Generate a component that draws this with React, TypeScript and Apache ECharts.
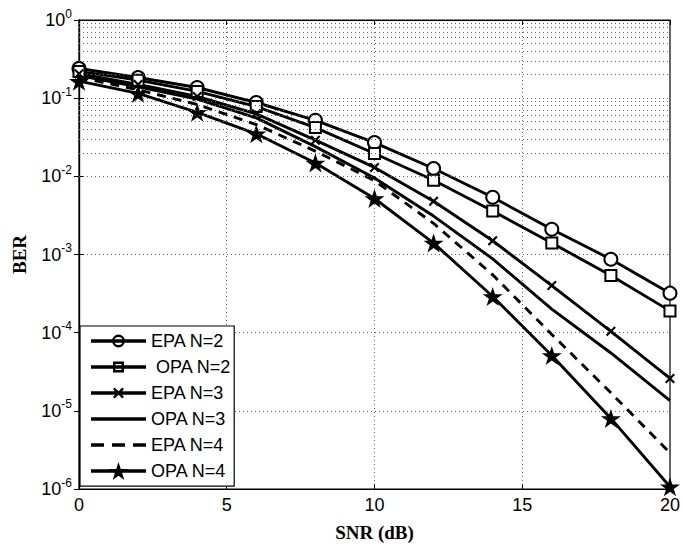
import React, { useEffect, useRef } from "react";
import * as echarts from "echarts";

const snr = [0, 2, 4, 6, 8, 10, 12, 14, 16, 18, 20];
const epaN2 = [0.24, 0.184, 0.137, 0.088, 0.052, 0.027, 0.0126, 0.0054, 0.0021, 0.00087, 0.00032];
const opaN2 = [0.22, 0.17, 0.122, 0.078, 0.042, 0.0196, 0.0089, 0.0036, 0.0014, 0.00054, 0.00019];
const epaN3 = [0.205, 0.15, 0.105, 0.063, 0.029, 0.013, 0.0048, 0.0015, 0.0004, 0.000104, 0.000026];
const opaN3 = [0.195, 0.14, 0.097, 0.056, 0.024, 0.0095, 0.0031, 0.00088, 0.0002, 0.000055, 0.0000135];
const epaN4 = [0.185, 0.128, 0.083, 0.046, 0.021, 0.0088, 0.0025, 0.00055, 0.000095, 0.000017, 0.0000029];
const opaN4 = [0.165, 0.115, 0.066, 0.035, 0.0148, 0.0052, 0.0014, 0.00029, 0.000051, 0.000008, 0.00000107];

const legendNames = ["EPA N=2", " OPA N=2", "EPA N=3", "OPA N=3", "EPA N=4", "OPA N=4"];
const xTicks = [0, 5, 10, 15, 20];
const minorMultipliers = [2, 3, 4, 5, 6, 7, 8, 9];
const decadeExponents = [-6, -5, -4, -3, -2, -1];

const X_PATH = "path://M0,3 L3,0 L10,7 L17,0 L20,3 L13,10 L20,17 L17,20 L10,13 L3,20 L0,17 L7,10 Z";
const STAR_PATH =
  "path://M10,0 L12.25,6.91 L19.51,6.91 L13.63,11.18 L15.88,18.09 L10,13.82 L4.12,18.09 L6.37,11.18 L0.49,6.91 L7.75,6.91 Z";

// legend icons (55 x 20 box): line + marker
const LINE = "M0,8.2H55V11.8H0Z";
const ICON_CIRCLE =
  "path://" + LINE +
  " M34,10 A6.5,6.5 0 1 1 21,10 A6.5,6.5 0 1 1 34,10 Z" +
  " M31.6,10 A4.1,4.1 0 1 0 23.4,10 A4.1,4.1 0 1 0 31.6,10 Z";
const ICON_SQUARE =
  "path://" + LINE +
  " M22,4.5H33V6.9H22Z M22,13.1H33V15.5H22Z M22,4.5H24.4V15.5H22Z M30.6,4.5H33V15.5H30.6Z";
const ICON_X =
  "path://" + LINE +
  " M22,6.2 L23.7,4.5 L27.5,8.3 L31.3,4.5 L33,6.2 L29.2,10 L33,13.8 L31.3,15.5 L27.5,11.7 L23.7,15.5 L22,13.8 L25.8,10 Z";
const ICON_SOLID = "path://" + LINE;
const ICON_DASH = "path://M0,8.2H13V11.8H0Z M21,8.2H34V11.8H21Z M42,8.2H55V11.8H42Z";
const ICON_STAR =
  "path://" + LINE +
  " M27.5,1 L29.75,7.91 L37.01,7.91 L31.13,12.18 L33.38,19.09 L27.5,14.82 L21.62,19.09 L23.87,12.18 L17.99,7.91 L25.25,7.91 Z";

const SANS = "'Liberation Sans', Arial, sans-serif";
const SERIF = "'Liberation Serif', 'Times New Roman', serif";

export default function App() {
  const ref = useRef<HTMLDivElement>(null);
  useEffect(() => {
    if (!ref.current) return;
    const chart = echarts.init(ref.current, null, { renderer: "svg" });
    const pair = (arr: number[]) => snr.map((s, i) => [s, arr[i]]);
    const minorLines: any[] = [];
    decadeExponents.forEach((e) => {
      minorMultipliers.forEach((k) => {
        minorLines.push({ yAxis: k * Math.pow(10, e) });
      });
    });
    const base = {
      type: "line",
      lineStyle: { color: "#000", width: 2.9 },
      itemStyle: { color: "#000", borderColor: "#000", borderWidth: 2.4 },
      z: 3,
    };
    chart.setOption({
      animation: false,
      backgroundColor: "#fff",
      grid: {
        left: 79,
        right: 11,
        top: 20,
        bottom: 58,
        show: true,
        borderColor: "#000",
        borderWidth: 1.2,
        backgroundColor: "#fff",
      },
      legend: {
        orient: "vertical",
        left: 80,
        top: 326,
        backgroundColor: "#fff",
        borderColor: "#000",
        borderWidth: 1.2,
        borderRadius: 0,
        padding: [6, 3, 6, 11],
        itemWidth: 55,
        itemHeight: 20,
        itemGap: 8,
        symbolKeepAspect: true,
        itemStyle: { color: "#000", borderWidth: 0 },
        textStyle: { fontSize: 18, fontFamily: SANS, color: "#000" },
        data: [
          { name: legendNames[0], icon: ICON_CIRCLE },
          { name: legendNames[1], icon: ICON_SQUARE },
          { name: legendNames[2], icon: ICON_X },
          { name: legendNames[3], icon: ICON_SOLID },
          { name: legendNames[4], icon: ICON_DASH },
          { name: legendNames[5], icon: ICON_STAR },
        ],
        z: 10,
      },
      xAxis: [
        {
          type: "value",
          min: 0,
          max: 20,
          interval: 5,
          name: "SNR (dB)",
          nameLocation: "middle",
          nameGap: 34,
          nameTextStyle: { fontSize: 19, fontWeight: "bold", fontFamily: SERIF, color: "#000" },
          axisLine: { show: true, lineStyle: { color: "#000", width: 1.2 } },
          axisTick: { show: true, inside: true, length: 5, lineStyle: { color: "#000" } },
          axisLabel: {
            fontSize: 18,
            fontFamily: SANS,
            color: "#000",
            margin: 7,
            formatter: (v: number) => (xTicks.indexOf(v) >= 0 ? String(v) : ""),
          },
          splitLine: { show: true, lineStyle: { color: "#666", type: [1, 3], width: 1 } },
        },
        {
          type: "value",
          position: "top",
          min: 0,
          max: 20,
          interval: 5,
          axisLine: { show: true, lineStyle: { color: "#000", width: 1.2 } },
          axisTick: { show: true, inside: true, length: 5, lineStyle: { color: "#000" } },
          axisLabel: { show: false },
          splitLine: { show: false },
        },
      ],
      yAxis: [
        {
          type: "log",
          logBase: 10,
          min: 1e-6,
          max: 1,
          name: "BER",
          nameLocation: "middle",
          nameGap: 50,
          nameTextStyle: { fontSize: 19, fontWeight: "bold", fontFamily: SERIF, color: "#000" },
          axisLine: { show: true, lineStyle: { color: "#000", width: 1.2 } },
          axisTick: { show: true, inside: true, length: 5, lineStyle: { color: "#000" } },
          axisLabel: {
            color: "#000",
            margin: 7,
            formatter: (v: number) => {
              const e = Math.round(Math.log10(v));
              return "{b|10}{e|" + String(e) + "}";
            },
            rich: {
              b: { fontSize: 18, fontFamily: SANS, color: "#000" },
              e: { fontSize: 12, fontFamily: SANS, color: "#000", padding: [0, 0, 13, 0] },
            },
          },
          splitLine: { show: true, lineStyle: { color: "#666", type: [1, 3], width: 1 } },
        },
        {
          type: "log",
          logBase: 10,
          min: 1e-6,
          max: 1,
          position: "right",
          axisLine: { show: true, lineStyle: { color: "#000", width: 1.2 } },
          axisTick: { show: true, inside: true, length: 5, lineStyle: { color: "#000" } },
          axisLabel: { show: false },
          splitLine: { show: false },
        },
      ],
      series: [
        {
          name: "minor-grid",
          type: "line",
          data: [],
          silent: true,
          z: 1,
          markLine: {
            silent: true,
            symbol: ["none", "none"],
            label: { show: false },
            lineStyle: { color: "#666", type: [1, 3], width: 1 },
            data: minorLines,
            animation: false,
          },
        },
        {
          ...base,
          name: legendNames[0],
          data: pair(epaN2),
          symbol: "emptyCircle",
          symbolSize: 13,
        },
        {
          ...base,
          name: legendNames[1],
          data: pair(opaN2),
          symbol: "emptyRect",
          symbolSize: 11,
        },
        {
          ...base,
          name: legendNames[2],
          data: pair(epaN3),
          symbol: X_PATH,
          symbolSize: 10,
          itemStyle: { color: "#000", borderWidth: 0 },
        },
        {
          ...base,
          name: legendNames[3],
          data: pair(opaN3),
          symbol: "none",
          showSymbol: false,
        },
        {
          ...base,
          name: legendNames[4],
          data: pair(epaN4),
          symbol: "none",
          showSymbol: false,
          lineStyle: { color: "#000", width: 2.9, type: [9, 7] },
        },
        {
          ...base,
          name: legendNames[5],
          data: pair(opaN4),
          symbol: STAR_PATH,
          symbolSize: 20,
          symbolKeepAspect: true,
          itemStyle: { color: "#000", borderWidth: 0 },
        },
      ],
    });
    return () => chart.dispose();
  }, []);
  return (
    <div
      ref={ref}
      style={{ position: "fixed", left: 0, top: 0, width: 683, height: 547, background: "#fff" }}
    />
  );
}
